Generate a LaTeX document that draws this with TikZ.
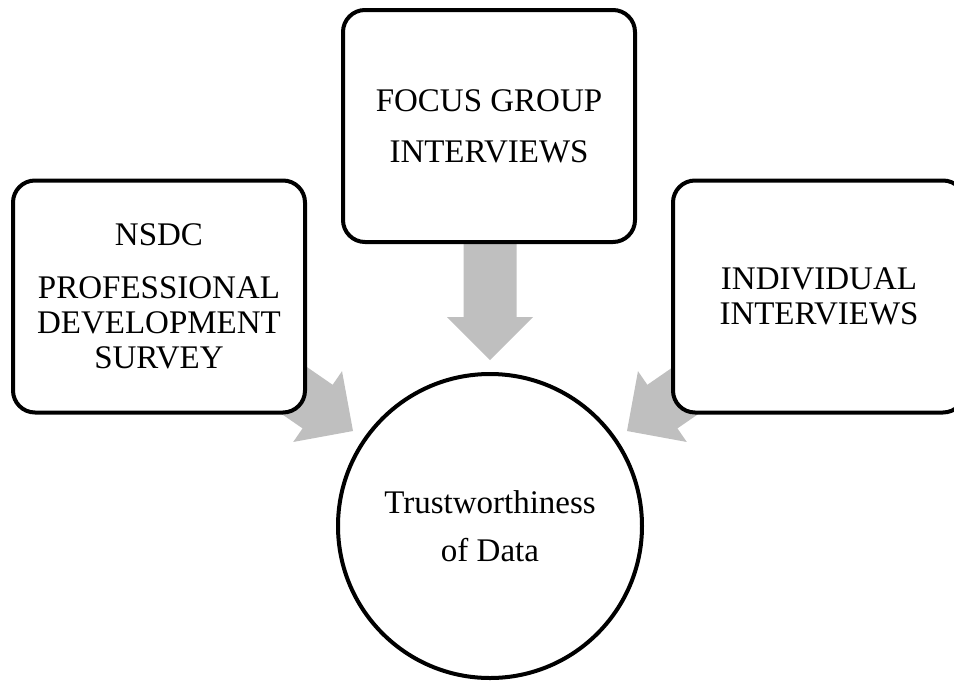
\documentclass[tikz,border=0pt]{standalone}
\usepackage{fontspec}
\setmainfont{Liberation Serif}
\usetikzlibrary{backgrounds}
\definecolor{arrowgray}{RGB}{191,191,191}
\begin{document}
\begin{tikzpicture}[x=1pt,y=-1pt,
  srcbox/.style={draw=black, line width=4pt, rounded corners=22pt, fill=white,
    minimum width=292pt, minimum height=232pt, align=center, inner sep=0pt,
    font=\fontsize{33}{35}\selectfont},
  hub/.style={draw=black, line width=4pt, circle, fill=white, minimum size=304pt,
    inner sep=0pt, align=center, font=\fontsize{33}{35}\selectfont},
  blockarrow/.style={fill=arrowgray, draw=none}]
\useasboundingbox (0,0) rectangle (954,681);
\clip (0,0) rectangle (954,681);

\node[srcbox] (focus) at (489,126) {FOCUS GROUP\\[16pt]INTERVIEWS};
\node[srcbox] (nsdc) at (159,296.5) {NSDC\\[18pt]PROFESSIONAL\\DEVELOPMENT\\SURVEY};
\node[srcbox] (indiv) at (819,296.5) {INDIVIDUAL\\INTERVIEWS};
\node[hub] (trust) at (490,526) {Trustworthiness\\[13pt]of Data};

\coordinate (tipT) at (490,360);
\coordinate (tipL) at (353,431);
\coordinate (tipR) at (627,431);

\begin{pgfonlayer}{background}
  \begin{scope}[shift={(tipT)}]
    \path[blockarrow] (0,0) -- (-43,-43) -- (-26.5,-43) -- (-26.5,-120)
      -- (26.5,-120) -- (26.5,-43) -- (43,-43) -- cycle;
  \end{scope}
  \begin{scope}[shift={(tipL)}, rotate=55.4]
    \path[blockarrow] (0,0) -- (-43,-43) -- (-26.5,-43) -- (-26.5,-115)
      -- (26.5,-115) -- (26.5,-43) -- (43,-43) -- cycle;
  \end{scope}
  \begin{scope}[shift={(tipR)}, rotate=-55.4]
    \path[blockarrow] (0,0) -- (-43,-43) -- (-26.5,-43) -- (-26.5,-115)
      -- (26.5,-115) -- (26.5,-43) -- (43,-43) -- cycle;
  \end{scope}
\end{pgfonlayer}
\end{tikzpicture}
\end{document}
